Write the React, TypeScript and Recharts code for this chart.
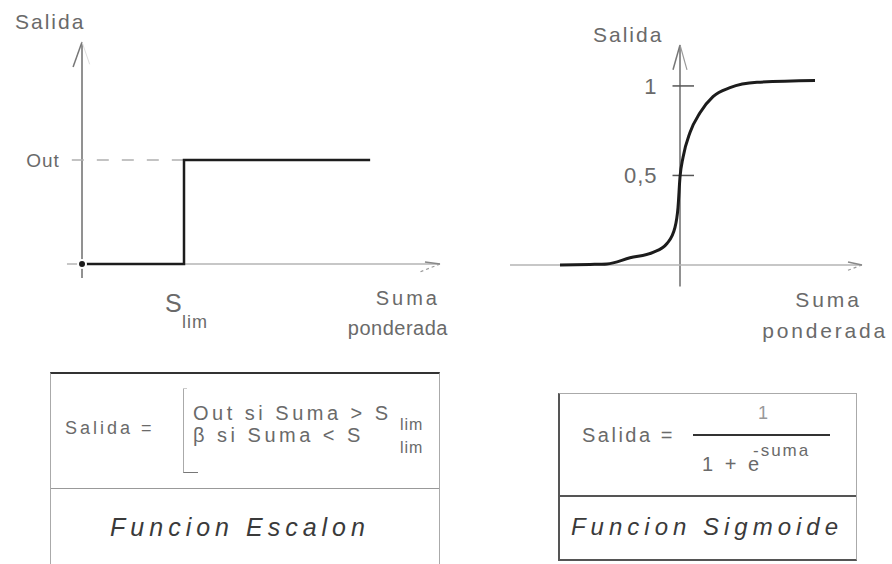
import React from "react";
import { LineChart, Line, XAxis, YAxis, ReferenceLine } from "recharts";

// funcion escalon (step)
const stepX = [0, 4, 4, 11.3];
const stepY = [0, 0, 1, 1];
const stepTicks = [1];
const stepTickLabels = ["Out"];

// funcion sigmoide
const sigmoidX = [-12, -9, -7.3, -5, -2.7, -1.3, -0.5, -0.2, 0, 0.3, 1, 2, 3.3, 5, 7.7, 13.5];
const sigmoidY = [0, 0.003, 0.006, 0.04, 0.07, 0.12, 0.21, 0.32, 0.49, 0.6, 0.74, 0.85, 0.94, 0.99, 1.02, 1.03];
const sigmoidTicks = [1, 0.5];
const sigmoidTickLabels = ["1", "0,5"];

const stepData = stepX.map((x, i) => ({ x, y: stepY[i] }));
const sigmoidData = sigmoidX.map((x, i) => ({ x, y: sigmoidY[i] }));

const FONT = "'Liberation Sans', Arial, sans-serif";
const TXT = "#6a6a6a";
const CURVE = "#1c1c1c";

type TProps = {
  x: number;
  y: number;
  size: number;
  ls?: number;
  end?: boolean;
  mid?: boolean;
  italic?: boolean;
  color?: string;
  children: React.ReactNode;
};

const T = ({ x, y, size, ls = 0, end, mid, italic, color = TXT, children }: TProps) => (
  <div
    style={{
      position: "absolute",
      left: x,
      top: y,
      transform: `translate(${end ? "-100%" : mid ? "-50%" : "0"}, -50%)`,
      fontSize: size,
      letterSpacing: ls,
      fontStyle: italic ? "italic" : "normal",
      color,
      lineHeight: 1,
      whiteSpace: "nowrap",
    }}
  >
    {children}
  </div>
);

const seg = (x1: number, y1: number, x2: number, y2: number) => [
  { x: x1, y: y1 },
  { x: x2, y: y2 },
];

const StepChart = () => (
  <LineChart
    width={460}
    height={345}
    data={stepData}
    margin={{ top: 0, right: 0, bottom: 0, left: 0 }}
    style={{ position: "absolute", left: 0, top: 0 }}
  >
    <XAxis hide type="number" dataKey="x" domain={[-3.216, 14.824]} allowDataOverflow />
    <YAxis hide type="number" domain={[-0.779, 2.538]} allowDataOverflow />
    {/* axes */}
    <ReferenceLine segment={seg(0, -0.135, 0, 2.135)} stroke="#6d6d6d" strokeWidth={1.5} ifOverflow="visible" />
    <ReferenceLine segment={seg(0, 2.135, -0.35, 1.894)} stroke="#777" strokeWidth={1.5} ifOverflow="visible" />
    <ReferenceLine segment={seg(0, 2.135, 0.3, 1.92)} stroke="#ddd" strokeWidth={1} ifOverflow="visible" />
    <ReferenceLine segment={seg(-0.59, 0, 14.04, 0)} stroke="#b5b5b5" strokeWidth={1.5} ifOverflow="visible" />
    <ReferenceLine segment={seg(14.04, 0, 13.45, 0.019)} stroke="#888" strokeWidth={1.5} ifOverflow="visible" />
    <ReferenceLine segment={seg(14.04, 0, 13.25, -0.077)} stroke="#999" strokeWidth={1.2} strokeDasharray="3 3" ifOverflow="visible" />
    {stepTicks.map((t, i) => (
      <ReferenceLine
        key={t}
        segment={seg(-0.4, t, stepX[1], t)}
        stroke="#b0b0b0"
        strokeWidth={1.5}
        strokeDasharray="12 13"
        ifOverflow="visible"
        label={{
          value: stepTickLabels[i],
          position: "left",
          offset: 12,
          fill: TXT,
          fontSize: 19,
          fontFamily: FONT,
          letterSpacing: 1,
        }}
      />
    ))}
    <Line type="linear" dataKey="y" stroke={CURVE} strokeWidth={2.5} dot={false} isAnimationActive={false} />
  </LineChart>
);

const SigmoidChart = () => (
  <LineChart
    width={422}
    height={345}
    data={sigmoidData}
    margin={{ top: 0, right: 0, bottom: 0, left: 0 }}
    style={{ position: "absolute", left: 470, top: 0 }}
  >
    <XAxis hide type="number" dataKey="x" domain={[-21, 21.2]} allowDataOverflow />
    <YAxis hide type="number" domain={[-0.447, 1.48]} allowDataOverflow />
    <ReferenceLine segment={seg(0, -0.12, 0, 1.229)} stroke="#6d6d6d" strokeWidth={1.5} ifOverflow="visible" />
    <ReferenceLine segment={seg(0, 1.229, -0.7, 1.09)} stroke="#777" strokeWidth={1.5} ifOverflow="visible" />
    <ReferenceLine segment={seg(0, 1.229, 0.7, 1.09)} stroke="#999" strokeWidth={1.2} ifOverflow="visible" />
    <ReferenceLine segment={seg(-17, 0, 18.2, 0)} stroke="#b5b5b5" strokeWidth={1.5} ifOverflow="visible" />
    <ReferenceLine segment={seg(18.2, 0, 16.8, 0.017)} stroke="#888" strokeWidth={1.5} ifOverflow="visible" />
    <ReferenceLine segment={seg(18.2, 0, 16.6, -0.034)} stroke="#999" strokeWidth={1.2} strokeDasharray="3 3" ifOverflow="visible" />
    {sigmoidTicks.map((t, i) => (
      <ReferenceLine
        key={t}
        segment={seg(-0.75, t, 1.4, t)}
        stroke="#555"
        strokeWidth={1.5}
        ifOverflow="visible"
        label={{
          value: sigmoidTickLabels[i],
          position: "left",
          offset: 15,
          fill: TXT,
          fontSize: 22,
          fontFamily: FONT,
          letterSpacing: 1,
        }}
      />
    ))}
    <Line type="monotone" dataKey="y" stroke={CURVE} strokeWidth={3} dot={false} isAnimationActive={false} />
  </LineChart>
);

const App = () => {
  return (
    <div
      style={{
        position: "absolute",
        left: 0,
        top: 0,
        width: 892,
        height: 564,
        overflow: "hidden",
        background: "#fff",
        fontFamily: FONT,
      }}
    >
      <StepChart />
      <SigmoidChart />

      {/* axis titles */}
      <T x={15} y={21} size={21} ls={2}>Salida</T>
      <T x={440} y={298} size={20} ls={3} end>Suma</T>
      <T x={448} y={328} size={20} ls={0.5} end>ponderada</T>
      <T x={165} y={303} size={25} ls={1}>S</T>
      <T x={182} y={322} size={18} ls={1}>lim</T>

      <T x={593} y={34} size={21} ls={2}>Salida</T>
      <T x={862} y={299} size={21} ls={3} end>Suma</T>
      <T x={888} y={330} size={21} ls={2.8} end>ponderada</T>

      {/* left formula box */}
      <div
        style={{
          position: "absolute",
          left: 50,
          top: 372,
          width: 388,
          height: 210,
          borderTop: "2px solid #333",
          borderLeft: "1px solid #aaa",
          borderRight: "1px solid #aaa",
        }}
      />
      <div style={{ position: "absolute", left: 51, top: 488, width: 388, height: 0, borderTop: "1.5px solid #999" }} />
      <T x={65} y={428} size={18} ls={3}>Salida =</T>
      <div style={{ position: "absolute", left: 183, top: 388, width: 14, height: 84, borderLeft: "1.5px solid #aaa", borderBottom: "1.5px solid #777" }} />
      <div style={{ position: "absolute", left: 183, top: 388, width: 4, height: 0, borderTop: "1px solid #ccc" }} />
      <T x={193} y={413} size={20} ls={3.5}>Out si Suma &gt; S</T>
      <T x={400} y={425} size={16} ls={1}>lim</T>
      <T x={193} y={435} size={20} ls={3.5}>β si Suma &lt; S</T>
      <T x={400} y={448} size={16} ls={1}>lim</T>
      <T x={240} y={527} size={25} ls={5} mid italic color="#3a3a3a">Funcion Escalon</T>

      {/* right formula box */}
      <div
        style={{
          position: "absolute",
          left: 558,
          top: 393,
          width: 296,
          height: 165,
          borderTop: "1px solid #aaa",
          borderLeft: "2px solid #555",
          borderRight: "1px solid #aaa",
          borderBottom: "2px solid #555",
        }}
      />
      <div style={{ position: "absolute", left: 559, top: 495, width: 297, height: 0, borderTop: "2px solid #555" }} />
      <T x={582} y={435} size={20} ls={2.5}>Salida =</T>
      <div style={{ position: "absolute", left: 693, top: 434, width: 137, height: 0, borderTop: "2px solid #333" }} />
      <T x={763} y={413} size={18} mid color="#999">1</T>
      <T x={702} y={464} size={20} ls={3}>1 + e</T>
      <T x={753} y={450} size={17} ls={2}>-suma</T>
      <T x={707} y={527} size={24} ls={5} mid italic color="#3a3a3a">Funcion Sigmoide</T>
    </div>
  );
};

export default App;
